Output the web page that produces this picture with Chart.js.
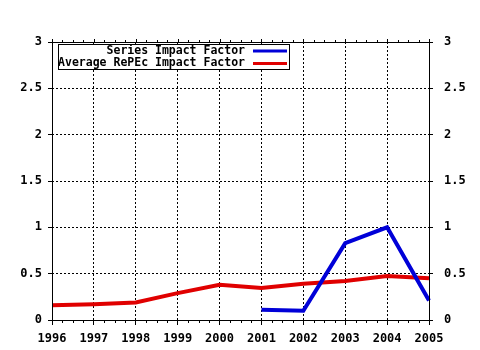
<!DOCTYPE html>
<html>
<head>
<meta charset="utf-8">
<script src="https://cdn.jsdelivr.net/npm/chart.js@4/dist/chart.umd.min.js"></script>
<style>
  body { margin: 0; background: #fff; }
  canvas { display: block; }
</style>
</head>
<body>
<canvas id="chart" width="480" height="350"></canvas>
<script>
// data
const years = ['1996', '1997', '1998', '1999', '2000', '2001', '2002', '2003', '2004', '2005']
const seriesImpact = [null, null, null, null, null, 0.11, 0.10, 0.83, 1.00, 0.21]
const repecImpact = [0.16, 0.17, 0.19, 0.29, 0.38, 0.345, 0.39, 0.42, 0.475, 0.45]
const seriesNames = ['Series Impact Factor', 'Average RePEc Impact Factor']
const yMin = 0
const yMax = 3
const yStep = 0.5

const MONO = '"DejaVu Sans Mono", "Liberation Mono", monospace'

// frame, minor ticks and the boxed legend
const framePlugin = {
  id: 'frame',
  afterDraw(chart) {
    const ctx = chart.ctx
    const a = chart.chartArea
    const x = chart.scales.x
    ctx.save()
    ctx.strokeStyle = '#000'
    ctx.lineWidth = 1
    ctx.setLineDash([])
    ctx.strokeRect(a.left + 0.5, a.top + 0.5, a.right - a.left, a.bottom - a.top)

    // quarter-year minor ticks, top and bottom
    ctx.beginPath()
    for (let i = 0; i < years.length - 1; i++) {
      for (let q = 1; q < 4; q++) {
        const px = Math.round(x.getPixelForValue(i + q / 4)) + 0.5
        ctx.moveTo(px, a.top - 2)
        ctx.lineTo(px, a.top)
        ctx.moveTo(px, a.bottom + 1)
        ctx.lineTo(px, a.bottom + 3)
      }
    }
    for (let i = 0; i < years.length; i++) {
      const px = Math.round(x.getPixelForValue(i)) + 0.5
      ctx.moveTo(px, a.top - 3)
      ctx.lineTo(px, a.top)
    }
    ctx.stroke()

    // legend box
    const bx = a.left + 6
    const by = a.top + 2
    ctx.fillStyle = '#fff'
    ctx.fillRect(bx, by, 232, 26)
    ctx.strokeRect(bx + 0.5, by + 0.5, 231, 25)
    ctx.font = 'bold 11.5px ' + MONO
    ctx.textAlign = 'right'
    ctx.textBaseline = 'middle'
    chart.data.datasets.forEach((ds, i) => {
      const ry = by + 7 + i * 12.5
      ctx.fillStyle = '#000'
      ctx.fillText(ds.label, bx + 187, ry)
      ctx.strokeStyle = ds.borderColor
      ctx.lineWidth = 3
      ctx.beginPath()
      ctx.moveTo(bx + 195, ry)
      ctx.lineTo(bx + 229, ry)
      ctx.stroke()
    })
    ctx.restore()
  }
}

const yTickOpts = {
  stepSize: yStep,
  color: '#000',
  font: { family: MONO, size: 12, weight: 'bold' },
  callback: v => String(v)
}

new Chart(document.getElementById('chart'), {
  type: 'line',
  data: {
    labels: years,
    datasets: [{
      label: seriesNames[0],
      data: seriesImpact,
      borderColor: '#0000d8',
      borderWidth: 4,
      pointRadius: 0,
      tension: 0,
      spanGaps: false
    }, {
      label: seriesNames[1],
      data: repecImpact,
      borderColor: '#e00000',
      borderWidth: 4,
      pointRadius: 0,
      tension: 0
    }]
  },
  options: {
    responsive: false,
    animation: false,
    layout: { padding: { top: 42, left: 0, right: 0, bottom: 0 } },
    plugins: {
      legend: { display: false },
      tooltip: { enabled: false }
    },
    scales: {
      x: {
        offset: false,
        grid: {
          color: '#000',
          lineWidth: 1,
          tickLength: 5,
          tickColor: '#000',
          tickBorderDash: []
        },
        border: { display: false, dash: [2, 2] },
        ticks: {
          color: '#000',
          maxRotation: 0,
          autoSkip: false,
          padding: 7,
          font: { family: MONO, size: 12, weight: 'bold' }
        },
        afterFit: s => { s.height = 30 }
      },
      y: {
        position: 'left',
        min: yMin,
        max: yMax,
        grid: {
          color: '#000',
          lineWidth: 1,
          tickLength: 4,
          tickColor: '#000',
          tickBorderDash: []
        },
        border: { display: false, dash: [2, 2] },
        ticks: Object.assign({ padding: 6 }, yTickOpts),
        afterFit: s => { s.width = 52 }
      },
      y2: {
        position: 'right',
        min: yMin,
        max: yMax,
        grid: {
          drawOnChartArea: false,
          tickLength: 4,
          tickColor: '#000',
          tickBorderDash: []
        },
        border: { display: false },
        ticks: Object.assign({ padding: 11 }, yTickOpts),
        afterFit: s => { s.width = 51 }
      }
    }
  },
  plugins: [framePlugin]
})
</script>
</body>
</html>
